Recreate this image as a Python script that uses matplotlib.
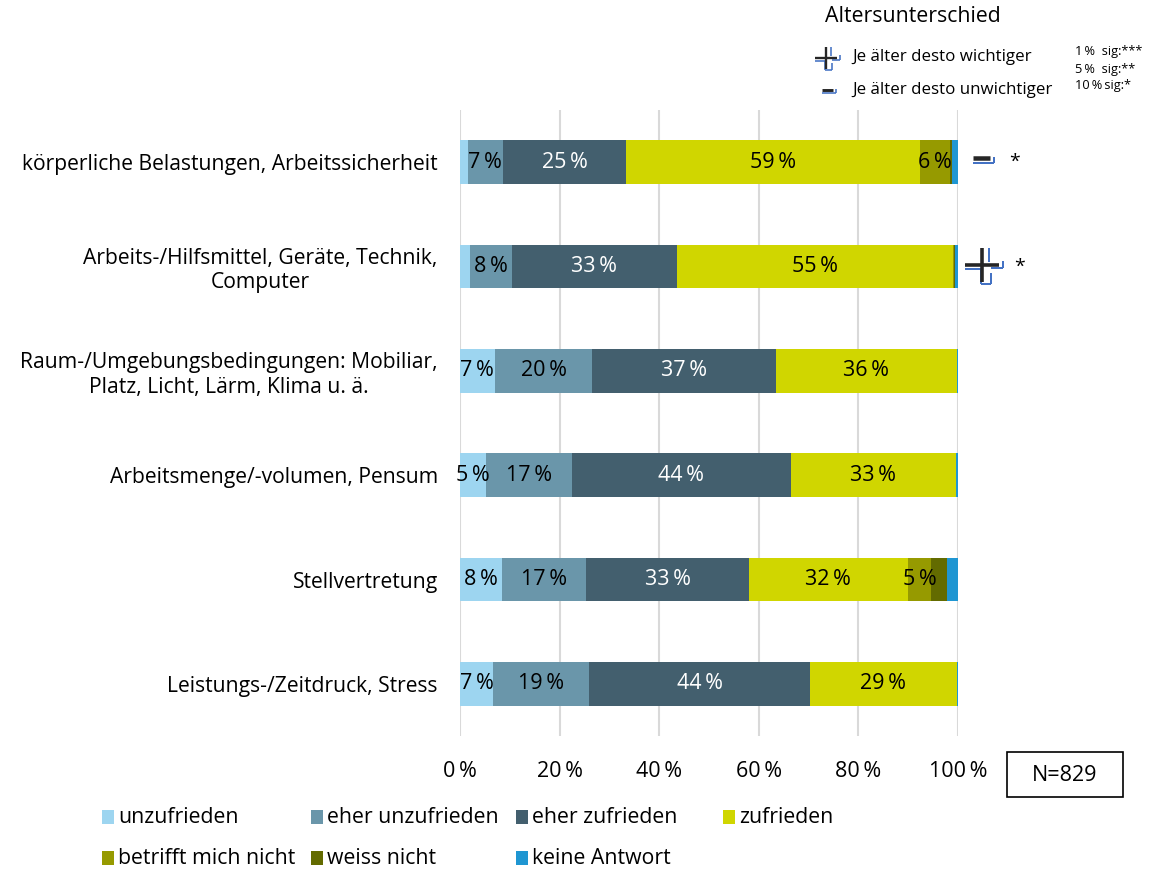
import matplotlib
matplotlib.use("Agg")
import matplotlib.pyplot as plt
from matplotlib.lines import Line2D
from matplotlib.patches import Rectangle
import numpy as np

plt.rcParams['font.family'] = ['Open Sans', 'DejaVu Sans']

categories = [
    "körperliche Belastungen, Arbeitssicherheit",
    "Arbeits-/Hilfsmittel, Geräte, Technik,\nComputer",
    "Raum-/Umgebungsbedingungen: Mobiliar,\nPlatz, Licht, Lärm, Klima u. ä.",
    "Arbeitsmenge/-volumen, Pensum",
    "Stellvertretung",
    "Leistungs-/Zeitdruck, Stress",
]
series_names = ["unzufrieden", "eher unzufrieden", "eher zufrieden", "zufrieden",
                "betrifft mich nicht", "weiss nicht", "keine Antwort"]
unzufrieden = [1.6, 2.0, 7.0, 5.3, 8.5, 6.7]
eher_unzufrieden = [7.0, 8.4, 19.6, 17.1, 16.9, 19.3]
eher_zufrieden = [24.8, 33.2, 36.8, 44.0, 32.6, 44.3]
zufrieden = [58.9, 55.3, 36.3, 33.2, 31.9, 29.4]
betrifft_nicht = [6.1, 0.2, 0.0, 0.0, 4.7, 0.0]
weiss_nicht = [0.3, 0.2, 0.0, 0.0, 3.2, 0.0]
keine_antwort = [1.3, 0.7, 0.3, 0.4, 2.2, 0.3]
sig_direction = ["-", "+", "", "", "", ""]
sig_level = ["*", "*", "", "", "", ""]
x_ticks = [0, 20, 40, 60, 80, 100]
n_text = "N=829"

series = [unzufrieden, eher_unzufrieden, eher_zufrieden, zufrieden,
          betrifft_nicht, weiss_nicht, keine_antwort]
colors = ["#9dd5f0", "#6a96aa", "#435f6e", "#d0d600", "#969a00", "#636b00", "#1f96d2"]
label_colors = ["black", "black", "white", "black", "black", "black", "black"]

W, H = 1151, 872
fig = plt.figure(figsize=(W / 100, H / 100), dpi=100)
ax = fig.add_axes([460 / W, 1 - 736 / H, 498 / W, 626 / H])

y = np.arange(len(categories))
left = np.zeros(len(categories))
FS_BAR = 15.5
FS_CAT = 15.2
FS_TICK = 15.5
FS_LEG = 15.3
for vals, col, lc in zip(series, colors, label_colors):
    vals = np.array(vals)
    ax.barh(y, vals, left=left, height=0.42, color=col, zorder=2)
    for yi, (l, v) in enumerate(zip(left, vals)):
        if v >= 4.5:
            ax.text(l + v / 2, yi, f"{round(v)}\u2009%", ha="center", va="center",
                    color=lc, fontsize=FS_BAR, zorder=3)
    left += vals

ax.set_xlim(0, 100)
ax.set_ylim(len(categories) - 0.5, -0.5)
ax.set_xticks(x_ticks)
ax.set_xticklabels([f"{t}\u2009%" for t in x_ticks], fontsize=FS_TICK)
ax.set_yticks(y)
ax.set_yticklabels(categories, fontsize=FS_CAT)
for t in ax.get_yticklabels():
    t.set_multialignment("center")
ax.tick_params(axis="both", length=0)
ax.tick_params(axis="x", pad=18)
ax.tick_params(axis="y", pad=16)
ax.grid(axis="x", color="#d9d9d9", linewidth=1.5, zorder=0)
ax.set_axisbelow(True)
for s in ax.spines.values():
    s.set_visible(False)


def fx(px):
    return px / W


def fy(py):
    return 1 - py / H


def line(x0, y0, x1, y1, color, lw_px):
    fig.add_artist(Line2D([fx(x0), fx(x1)], [fy(y0), fy(y1)], color=color,
                          linewidth=lw_px * 0.72, solid_capstyle="butt",
                          transform=fig.transFigure))


BLUE = "#4472c4"
DARK = "#262626"


def draw_plus(cx, cy, k):
    blw = max(1.6, 2.0 * k)
    segs = [((7, -17), (7, -3)),
            ((21, -4), (21, 3)),
            ((9, 3), (21, 3)),
            ((-17, 4), (-1, 4)),
            ((-1, 4), (-1, 19)),
            ((-1, 19), (9, 19)),
            ((9, 19), (9, 8))]
    for (a, b), (c, d) in segs:
        line(cx + a * k, cy + b * k, cx + c * k, cy + d * k, BLUE, blw)
    line(cx - 17 * k, cy, cx + 17 * k, cy, DARK, 3.6 * k)
    line(cx, cy - 17 * k, cx, cy + 17 * k, DARK, 3.6 * k)


def draw_minus(cx, cy, k):
    blw = max(1.6, 2.0 * k)
    line(cx - 8.5 * k, cy, cx + 8.5 * k, cy, DARK, 4.5 * k)
    line(cx - 8.5 * k, cy + 5 * k, cx + 12.5 * k, cy + 5 * k, BLUE, blw)
    line(cx + 12.5 * k, cy + 5 * k, cx + 12.5 * k, cy - 1 * k, BLUE, blw)


# significance markers next to bars
fig.canvas.draw()
for yi, (d, lv) in enumerate(zip(sig_direction, sig_level)):
    if not d:
        continue
    _, ypix = ax.transData.transform((0, yi))
    py = H - ypix
    if d == "+":
        draw_plus(982, py - 2, 1.0)
        fig.text(fx(1020), fy(py), lv, ha="center", va="center", fontsize=14)
    else:
        draw_minus(981.5, py - 4, 1.0)
        fig.text(fx(1015), fy(py), lv, ha="center", va="center", fontsize=14)

# top-right legend
fig.text(fx(825), fy(17), "Altersunterschied", ha="left", va="center", fontsize=15.3)
draw_plus(826, 58, 0.65)
fig.text(fx(852), fy(57), "Je älter desto wichtiger", ha="left", va="center", fontsize=12.2)
draw_minus(827.5, 90, 0.65)
fig.text(fx(852), fy(90), "Je älter desto unwichtiger", ha="left", va="center", fontsize=12.2)
fig.text(fx(1075), fy(52), "1\u2009%  sig:***", ha="left", va="center", fontsize=9.2)
fig.text(fx(1075), fy(69), "5\u2009%  sig:**", ha="left", va="center", fontsize=9.2)
fig.text(fx(1075), fy(86), "10\u2009%\u2009sig:*", ha="left", va="center", fontsize=9.2)

# N box
fig.add_artist(Rectangle((fx(1007), fy(797)), fx(116), 45 / H, fill=False,
                         edgecolor="black", linewidth=1.2, transform=fig.transFigure))
fig.text(fx(1065), fy(775), n_text, ha="center", va="center", fontsize=15.5)

# bottom legend
leg_pos = [(102, 817), (311, 817), (516, 817), (723, 817),
           (102, 858), (311, 858), (516, 858)]
for name, col, (px, py) in zip(series_names, colors, leg_pos):
    fig.add_artist(Rectangle((fx(px), fy(py + 7)), fx(12), 14 / H, facecolor=col,
                             edgecolor="none", transform=fig.transFigure))
    fig.text(fx(px + 16), fy(py), name, ha="left", va="center", fontsize=FS_LEG)

fig.savefig("out.png", dpi=100)
